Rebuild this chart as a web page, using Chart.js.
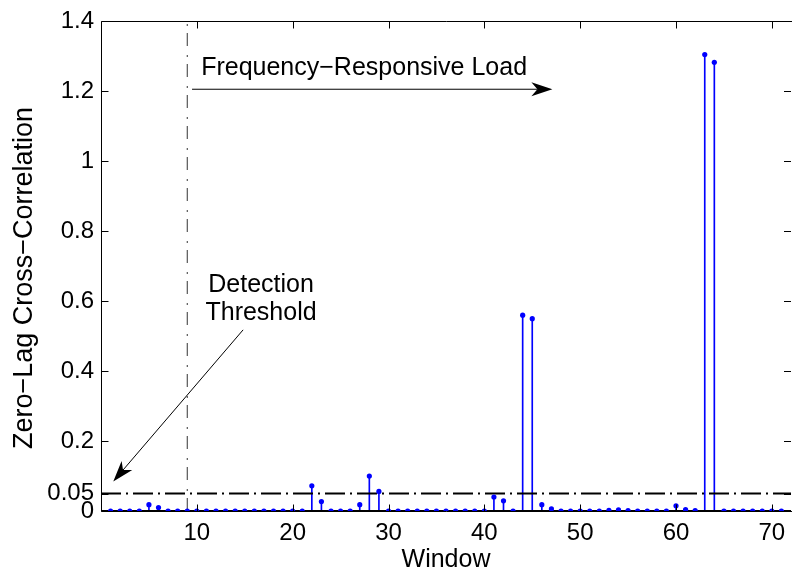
<!DOCTYPE html>
<html><head><meta charset="utf-8">
<script src="https://cdn.jsdelivr.net/npm/chart.js@4/dist/chart.umd.min.js"></script>
<style>html,body{margin:0;padding:0;background:#fff;overflow:hidden}#wrap{width:795px;height:572px;position:relative}</style>
</head><body><div id="wrap"><canvas id="c" width="795" height="572"></canvas></div>
<script>
// ---- data ----
const windows = [];
for (let w = 1; w <= 71; w++) windows.push(w);
const correlation = [
  0, 0, 0, 0, 0.018, 0.010, 0, 0, 0, 0,          // 1-10
  0, 0, 0, 0, 0, 0, 0, 0, 0, 0,                  // 11-20
  0, 0.072, 0.027, 0, 0, 0, 0.018, 0.100, 0.056, 0, // 21-30
  0, 0, 0, 0, 0, 0, 0, 0, 0, 0,                  // 31-40
  0.040, 0.029, 0, 0.560, 0.550, 0.018, 0.006, 0, 0, 0, // 41-50
  0, 0, 0.002, 0.003, 0.001, 0, 0, 0, 0, 0.015,  // 51-60
  0.004, 0.001, 1.305, 1.283, 0, 0, 0, 0, 0, 0,  // 61-70
  0                                              // 71
];
const xTicks = [10, 20, 30, 40, 50, 60, 70];
const yTicks = [0, 0.05, 0.2, 0.4, 0.6, 0.8, 1, 1.2, 1.4];
const yTickLabels = ['0', '0.05', '0.2', '0.4', '0.6', '0.8', '1', '1.2', '1.4'];
const xRange = [0, 72];
const yRange = [0, 1.4];
const threshold = 0.05;
const loadStartWindow = 9;
const xTitle = 'Window';
const yTitle = 'Zero\u2212Lag Cross\u2212Correlation';
const loadText = 'Frequency\u2212Responsive Load';
const thresholdText = ['Detection', 'Threshold'];
// annotation anchors, in data units
const loadArrow = { from: [9.5, 1.206], to: [47.1, 1.206], textAt: [10.45, 1.246] };
const thresholdArrow = { from: [14.83, 0.518], to: [1.28, 0.0845], textAt: [16.7, 0.627, 0.546] };

const FONT = '"Liberation Sans", Arial, Helvetica, sans-serif';
const BLUE = '#0000ff';

function arrow(ctx, x1, y1, x2, y2) {
  const ang = Math.atan2(y2 - y1, x2 - x1);
  const L = 21, W = 7, N = 15;
  ctx.beginPath(); ctx.moveTo(x1, y1);
  ctx.lineTo(x2 - Math.cos(ang) * N, y2 - Math.sin(ang) * N);
  ctx.stroke();
  const c = Math.cos(ang), s = Math.sin(ang);
  ctx.beginPath();
  ctx.moveTo(x2, y2);
  ctx.lineTo(x2 - c * L - s * W, y2 - s * L + c * W);
  ctx.lineTo(x2 - c * N, y2 - s * N);
  ctx.lineTo(x2 - c * L + s * W, y2 - s * L - c * W);
  ctx.closePath(); ctx.fill();
}

const decor = {
  id: 'decor',
  afterDraw(chart) {
    const ctx = chart.ctx, a = chart.chartArea;
    const xs = chart.scales.x, ys = chart.scales.y;
    ctx.save();
    ctx.strokeStyle = '#000'; ctx.fillStyle = '#000'; ctx.lineWidth = 1;
    const L = Math.round(a.left) + 0.5, T = Math.round(a.top) + 0.5, B = Math.round(a.bottom) + 0.5, R = a.right;
    ctx.beginPath();
    ctx.moveTo(L, B); ctx.lineTo(L, T); ctx.lineTo(R + 1, T);
    ctx.moveTo(L, B); ctx.lineTo(R + 1, B);
    ctx.stroke();
    // ticks (inward)
    ctx.beginPath();
    yTicks.forEach(v => {
      const y = Math.round(ys.getPixelForValue(v)) + 0.5;
      ctx.moveTo(L, y); ctx.lineTo(L + 7, y);
      ctx.moveTo(R - 7, y); ctx.lineTo(R, y);
    });
    xTicks.forEach(v => {
      const x = Math.round(xs.getPixelForValue(v)) + 0.5;
      ctx.moveTo(x, B); ctx.lineTo(x, B - 7);
      ctx.moveTo(x, T); ctx.lineTo(x, T + 7);
    });
    ctx.stroke();
    // titles
    ctx.font = '25px ' + FONT;
    ctx.textAlign = 'center'; ctx.textBaseline = 'alphabetic';
    ctx.fillText(xTitle, (a.left + a.right) / 2, 567);
    ctx.save();
    ctx.font = '27px ' + FONT;
    ctx.translate(32, 278);
    ctx.rotate(-Math.PI / 2);
    ctx.fillText(yTitle, 0, 0);
    ctx.restore();
    // annotations
    ctx.font = '25px ' + FONT;
    ctx.lineWidth = 1;
    const px = p => [xs.getPixelForValue(p[0]), ys.getPixelForValue(p[1])];
    let f = px(loadArrow.from), t = px(loadArrow.to);
    arrow(ctx, f[0], f[1], t[0], t[1]);
    ctx.textAlign = 'left';
    ctx.fillText(loadText, xs.getPixelForValue(loadArrow.textAt[0]), ys.getPixelForValue(loadArrow.textAt[1]));
    f = px(thresholdArrow.from); t = px(thresholdArrow.to);
    arrow(ctx, f[0], f[1], t[0], t[1]);
    ctx.textAlign = 'center';
    const tx = xs.getPixelForValue(thresholdArrow.textAt[0]);
    ctx.fillText(thresholdText[0], tx, ys.getPixelForValue(thresholdArrow.textAt[1]));
    ctx.fillText(thresholdText[1], tx, ys.getPixelForValue(thresholdArrow.textAt[2]));
    ctx.restore();
  }
};

const points = windows.map((w, i) => ({ x: w, y: correlation[i] }));

new Chart(document.getElementById('c'), {
  type: 'bar',
  data: {
    datasets: [
      { type: 'scatter', data: points, showLine: false, pointRadius: 2.6, pointBackgroundColor: BLUE, pointBorderWidth: 0, order: 0 },
      { type: 'line', data: [{ x: xRange[0], y: 0 }, { x: xRange[1], y: 0 }], borderColor: '#000', borderWidth: 2, pointRadius: 0, order: 1 },
      { type: 'line', data: [{ x: xRange[0], y: threshold }, { x: xRange[1], y: threshold }], borderColor: '#000', borderWidth: 2, borderDash: [20, 5, 2, 5], pointRadius: 0, order: 2 },
      { type: 'bar', data: points, backgroundColor: BLUE, barThickness: 1, borderWidth: 0, order: 3 },
      { type: 'line', data: [{ x: loadStartWindow, y: yRange[0] }, { x: loadStartWindow, y: yRange[1] }], borderColor: '#333', borderWidth: 1, borderDash: [13, 7, 2, 9], pointRadius: 0, order: 4 }
    ]
  },
  options: {
    responsive: false, animation: false, devicePixelRatio: 1,
    layout: { padding: { top: 19, right: 0, left: 0, bottom: 0 } },
    plugins: { legend: { display: false }, tooltip: { enabled: false } },
    scales: {
      x: {
        type: 'linear', min: xRange[0], max: xRange[1], offset: false,
        grid: { display: false, drawTicks: false }, border: { display: false },
        afterBuildTicks: s => { s.ticks = xTicks.map(v => ({ value: v })); },
        afterFit: s => { s.height = 61; },
        ticks: { color: '#000', font: { family: FONT, size: 24 }, padding: 8, maxRotation: 0, autoSkip: false }
      },
      y: {
        type: 'linear', min: yRange[0], max: yRange[1],
        grid: { display: false, drawTicks: false }, border: { display: false },
        afterBuildTicks: s => { s.ticks = yTicks.map(v => ({ value: v })); },
        afterFit: s => { s.width = 101; },
        ticks: { color: '#000', font: { family: FONT, size: 24 }, padding: 7, autoSkip: false,
          callback: (v) => { const i = yTicks.indexOf(v); return i >= 0 ? yTickLabels[i] : ''; } }
      }
    }
  },
  plugins: [decor]
});
</script>
</body></html>
